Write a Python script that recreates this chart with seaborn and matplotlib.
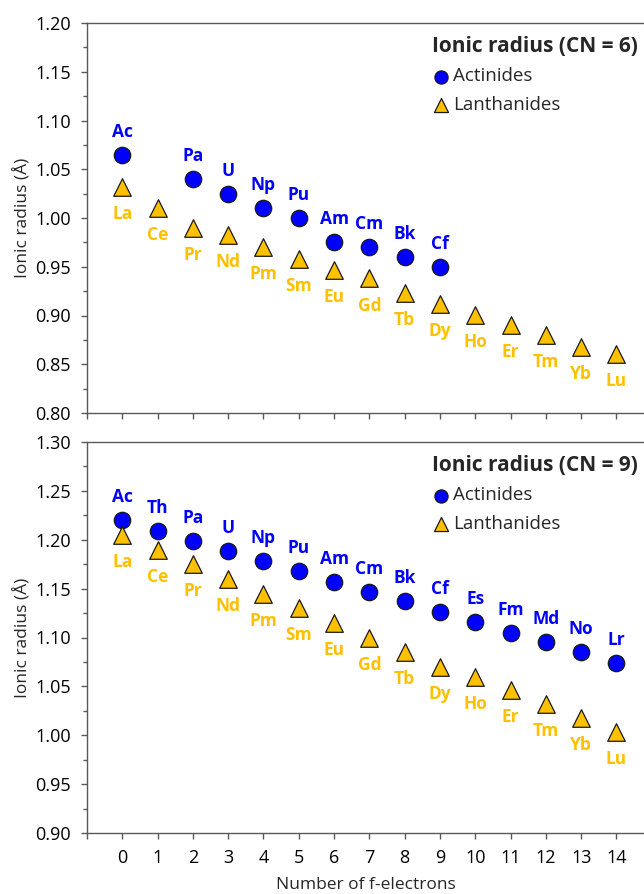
import numpy as np
import pandas as pd
import matplotlib.pyplot as plt
import seaborn as sns
from matplotlib.ticker import MultipleLocator, FormatStrFormatter

# Element symbols
act_sym = ['Ac', 'Th', 'Pa', 'U', 'Np', 'Pu', 'Am', 'Cm', 'Bk', 'Cf', 'Es', 'Fm', 'Md', 'No', 'Lr']
lan_sym = ['La', 'Ce', 'Pr', 'Nd', 'Pm', 'Sm', 'Eu', 'Gd', 'Tb', 'Dy', 'Ho', 'Er', 'Tm', 'Yb', 'Lu']
f_electrons = list(range(15))

# CN = 6 (no Th and nothing past Cf for the actinides)
cn6_act_n = [0, 2, 3, 4, 5, 6, 7, 8, 9]
cn6_act_sym = ['Ac', 'Pa', 'U', 'Np', 'Pu', 'Am', 'Cm', 'Bk', 'Cf']
cn6_act_r = [1.065, 1.040, 1.025, 1.010, 1.000, 0.975, 0.970, 0.960, 0.950]
cn6_lan_r = [1.032, 1.010, 0.990, 0.983, 0.970, 0.958, 0.947, 0.938, 0.923,
             0.912, 0.901, 0.890, 0.880, 0.868, 0.861]

# CN = 9
cn9_act_r = [1.220, 1.209, 1.199, 1.189, 1.178, 1.168, 1.157, 1.147, 1.137,
             1.126, 1.116, 1.105, 1.095, 1.085, 1.074]
cn9_lan_r = [1.205, 1.190, 1.175, 1.160, 1.145, 1.130, 1.115, 1.100, 1.085,
             1.070, 1.060, 1.046, 1.032, 1.018, 1.003]

xtick_pos = list(range(-1, 15))
xtick_lab = [''] + [str(i) for i in range(15)]

sns.set_theme(style='ticks')
plt.rcParams['font.family'] = ['Open Sans', 'DejaVu Sans']

blue = '#0000FF'
gold = '#FFC000'
edge = '#1a1a1a'
axis_col = '#595959'

fig = plt.figure(figsize=(6.44, 8.94), dpi=100)
W, H = 644, 894
ax_top = fig.add_axes([87 / W, 1 - 413 / H, 1 - 87 / W, 390 / H])
ax_bot = fig.add_axes([87 / W, 1 - 833 / H, 1 - 87 / W, 391 / H])


def draw_panel(ax, act_n, act_r, act_s, lan_r, cn, ylim, show_xlabels):
    act = pd.DataFrame({'n': act_n, 'r': act_r, 'sym': act_s})
    lan = pd.DataFrame({'n': f_electrons, 'r': lan_r, 'sym': lan_sym})
    sns.scatterplot(data=act, x='n', y='r', marker='o', s=140, color=blue,
                    edgecolor=edge, linewidth=0.9, ax=ax, label='Actinides', zorder=3)
    sns.scatterplot(data=lan, x='n', y='r', marker='^', s=160, color=gold,
                    edgecolor=edge, linewidth=0.9, ax=ax, label='Lanthanides', zorder=3)

    for _, row in act.iterrows():
        ax.annotate(row['sym'], (row['n'], row['r']), xytext=(0, 16.5), textcoords='offset points',
                    ha='center', va='center', color=blue, fontweight='bold', fontsize=12.5)
    for _, row in lan.iterrows():
        ax.annotate(row['sym'], (row['n'], row['r']), xytext=(0, -19.5), textcoords='offset points',
                    ha='center', va='center', color=gold, fontweight='bold', fontsize=12.5)

    ax.set_xlim(-1, 14.78)
    ax.set_ylim(*ylim)
    ax.set_xticks(xtick_pos)
    ax.set_xticklabels(xtick_lab if show_xlabels else [])
    ax.yaxis.set_major_locator(MultipleLocator(0.05))
    ax.yaxis.set_minor_locator(MultipleLocator(0.025))
    ax.yaxis.set_major_formatter(FormatStrFormatter('%.2f'))
    ax.tick_params(axis='both', which='major', direction='out', length=4.5, width=1,
                   color=axis_col, labelsize=13, labelcolor='black')
    ax.tick_params(axis='y', which='major', pad=7)
    ax.tick_params(axis='x', which='major', pad=7)
    ax.tick_params(axis='y', which='minor', direction='out', length=3, width=1, color=axis_col)

    ax.spines['right'].set_visible(False)
    for s in ['left', 'top', 'bottom']:
        ax.spines[s].set_color(axis_col)
        ax.spines[s].set_linewidth(1)

    ax.set_ylabel('Ionic radius (Å)', fontsize=12.5)
    ax.yaxis.set_label_coords(-0.10, 0.5)
    ax.set_xlabel('')

    ax.legend(title=f'Ionic radius (CN = {cn})', loc='upper right', bbox_to_anchor=(1.012, 1.0),
              frameon=False, fontsize=13.5, title_fontproperties={'weight': 'bold', 'size': 15},
              alignment='left', handletextpad=0.15, handlelength=1.0, labelspacing=0.55,
              borderaxespad=0.3, markerscale=0.8)


draw_panel(ax_top, cn6_act_n, cn6_act_r, cn6_act_sym, cn6_lan_r, 6, (0.80, 1.20), False)
draw_panel(ax_bot, f_electrons, cn9_act_r, act_sym, cn9_lan_r, 9, (0.90, 1.30), True)

ax_bot.set_xlabel('Number of f-electrons', fontsize=12.5)
ax_bot.xaxis.set_label_coords(0.5, -0.113)

fig.savefig('out.png', dpi=100)
